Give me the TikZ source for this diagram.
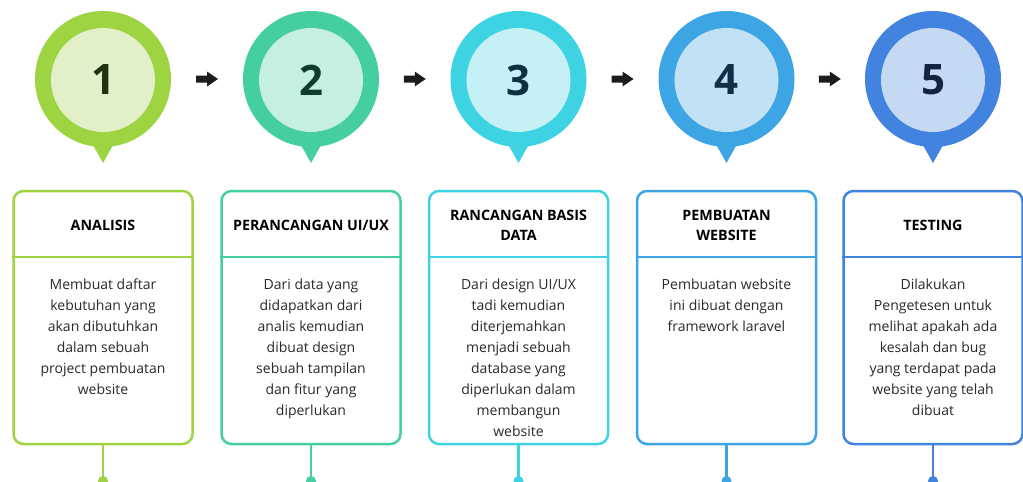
\documentclass[tikz,border=0pt]{standalone}
\usepackage{fontspec}
\setmainfont{Open Sans}
\usetikzlibrary{calc}
\definecolor{oA}{HTML}{9ED342}\definecolor{iA}{HTML}{E1F0C8}\definecolor{nA}{HTML}{1F3310}
\definecolor{oB}{HTML}{45CFA0}\definecolor{iB}{HTML}{C5F0E0}\definecolor{nB}{HTML}{0F3D2C}
\definecolor{oC}{HTML}{3ED3E3}\definecolor{iC}{HTML}{C5F0F5}\definecolor{nC}{HTML}{0F3040}
\definecolor{oD}{HTML}{3DA5E3}\definecolor{iD}{HTML}{C3E1F5}\definecolor{nD}{HTML}{102E45}
\definecolor{oE}{HTML}{4183DE}\definecolor{iE}{HTML}{C6D9F2}\definecolor{nE}{HTML}{14243F}
\definecolor{arrowc}{HTML}{1C1C1C}
\definecolor{bodyc}{HTML}{2A2A2A}
\tikzset{
  outerc/.style={circle, minimum size=136pt, inner sep=0pt},
  innerc/.style={circle, minimum size=104pt, inner sep=0pt, font=\fontsize{42}{42}\selectfont\bfseries},
  card/.style={draw, line width=2.5pt, rounded corners=10pt, minimum width=179pt, minimum height=253pt, inner sep=0pt, fill=white},
  headtxt/.style={align=center, font=\fontsize{14.3}{20}\selectfont\bfseries, text=black},
  bodytxt/.style={align=center, anchor=north, font=\fontsize{14}{21}\selectfont, text=bodyc, inner sep=0pt},
  stem/.style={line width=2.5pt},
  nextarrow/.style={fill=arrowc}
}
\begin{document}
\begin{tikzpicture}[x=1pt,y=-1pt]
\useasboundingbox (0,0) rectangle (1023,482);
\foreach \n/\x/\col/\num/\head/\body in {
 A/103/A/1/{ANALISIS}/{Membuat daftar\\kebutuhan yang\\akan dibutuhkan\\dalam sebuah\\project pembuatan\\website},
 B/311/B/2/{PERANCANGAN UI/UX}/{Dari data yang\\didapatkan dari\\analis kemudian\\dibuat design\\sebuah tampilan\\dan fitur yang\\diperlukan},
 C/518.5/C/3/{RANCANGAN BASIS\\DATA}/{Dari design UI/UX\\tadi kemudian\\diterjemahkan\\menjadi sebuah\\database yang\\diperlukan dalam\\membangun\\website},
 D/726.5/D/4/{PEMBUATAN\\WEBSITE}/{Pembuatan website\\ini dibuat dengan\\framework laravel},
 E/933/E/5/{TESTING}/{Dilakukan\\Pengetesen untuk\\melihat apakah ada\\kesalah dan bug\\yang terdapat pada\\website yang telah\\dibuat}}
{
  % pin
  \fill[o\col] (\x-14,138) -- (\x,163) -- (\x+14,138) -- cycle;
  \node[outerc, fill=o\col] (pin\n) at (\x,79) {};
  \node[innerc, fill=i\col, text=n\col] (num\n) at (\x,80) {\num};
  % card
  \node[card, draw=o\col] (card\n) at (\x,317.5) {};
  \draw[o\col, line width=2.5pt] (card\n.west |- 0,257) -- (card\n.east |- 0,257);
  \node[headtxt] (head\n) at (\x,225) {\head};
  \node[bodytxt] (body\n) at (\x,279) {\body};
  % stem
  \coordinate (dot\n) at (\x,481);
  \draw[stem, o\col] (card\n.south) -- (dot\n);
  \fill[o\col] (dot\n) circle (5);
}
% arrows between pins
\foreach \a/\b in {A/B,B/C,C/D,D/E}{
  \path ($(pin\a.center)!0.5!(pin\b.center)$) coordinate (mid\a\b);
  \fill[nextarrow] ($(mid\a\b)+(-11,-3.5)$) -- ($(mid\a\b)+(0,-3.5)$) -- ($(mid\a\b)+(0,-7.5)$)
     -- ($(mid\a\b)+(11,0)$) -- ($(mid\a\b)+(0,7.5)$) -- ($(mid\a\b)+(0,3.5)$) -- ($(mid\a\b)+(-11,3.5)$) -- cycle;
}
\end{tikzpicture}
\end{document}
